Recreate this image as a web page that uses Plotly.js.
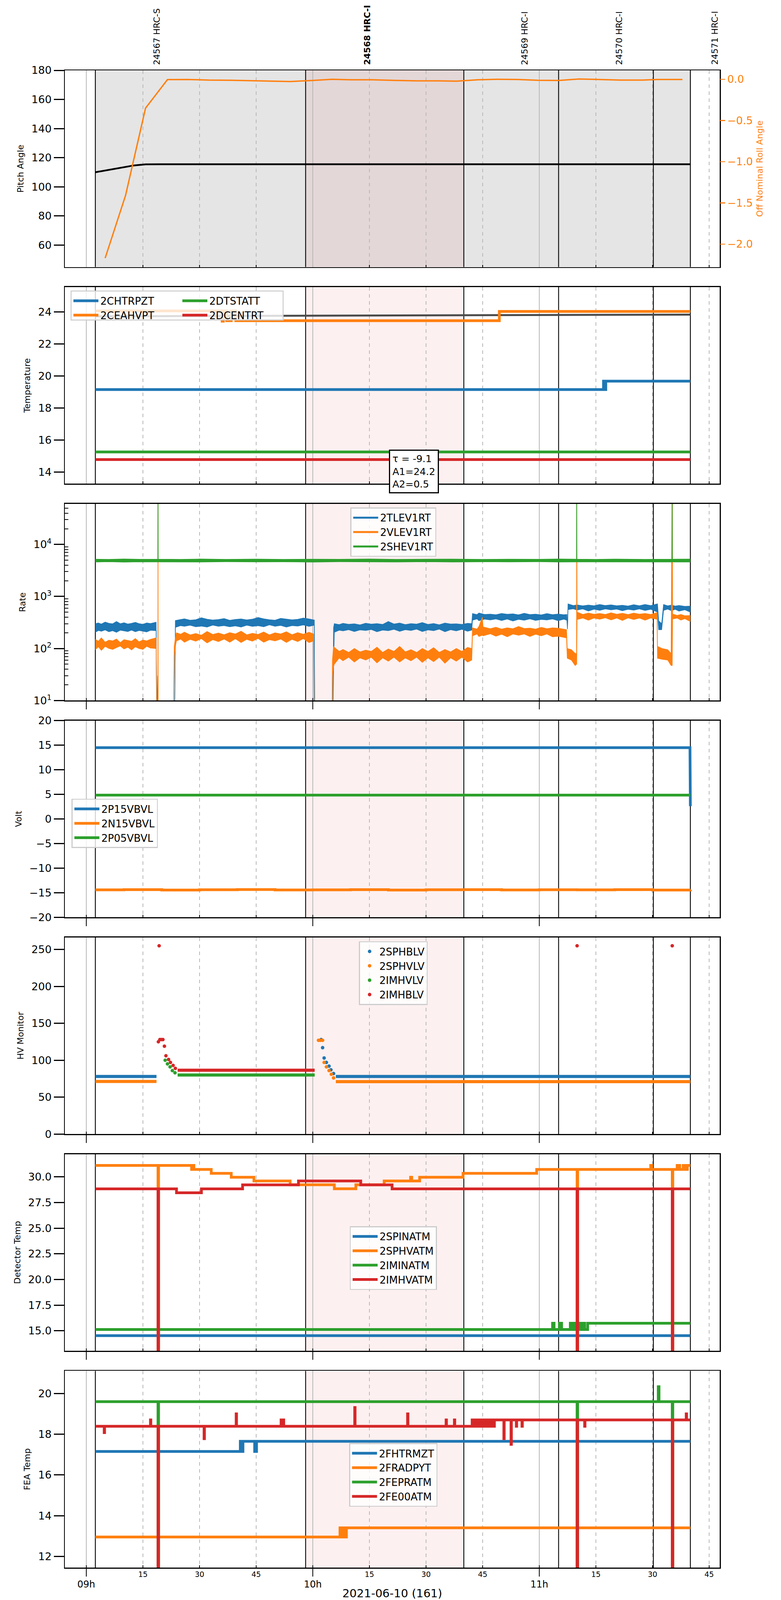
<!DOCTYPE html>
<html>
<head>
<meta charset="utf-8">
<script src="https://cdn.plot.ly/plotly-3.0.1.min.js"></script>
<style>
  body { margin: 0; background: #fff; }
  #chart { width: 2000px; height: 4096px; }
</style>
</head>
<body>
<div id="chart"></div>
<script>
// tab10 colours, as in the matplotlib original
const BLUE = "#1f77b4";
const ORANGE = "#ff7f0e";
const GREEN = "#2ca02c";
const RED = "#d62728";
const FONT = "DejaVu Sans";

// all times are minutes after 2021-06-10 09:00 UTC
const obsLabels = ["24567 HRC-S", "<b>24568 HRC-I</b>", "24569 HRC-I", "24570 HRC-I", "24571 HRC-I"];
const obsLabelT = [18.7, 74.4, 116.1, 141.1, 166.4];
const obsBoundsT = [2.4, 58.1, 100.0, 125.1, 150.2, 160.0];
const focusStartT = 58.1;
const focusEndT = 100.0;
const minorLabelT = [15, 30, 45, 75, 90, 105, 135, 150, 165];
const minorLabelText = ["15", "30", "45", "15", "30", "45", "15", "30", "45"];
const logMinorTicks = [20, 30, 40, 50, 60, 70, 80, 90, 200, 300, 400, 500, 600, 700, 800, 900,
  2000, 3000, 4000, 5000, 6000, 7000, 8000, 9000, 20000, 30000, 40000, 50000];

// panel 1: pitch / off nominal roll
const pitchT = [2.4, 7.4, 12.7, 15.7, 19.3, 160];
const pitchV = [110.0, 112.3, 114.7, 115.4, 115.5, 115.5];
const rollT = [5.0, 10.4, 15.7, 21.5, 26.9, 32.5, 38.4, 45.0, 49.2, 54.0, 59.9, 65.1, 70.1, 75.8, 82.6,
  87.6, 92.9, 98.1, 103.7, 109.0, 114.3, 119.6, 125.1, 130.5, 135.8, 141.4, 147.3, 151.3, 157.9];
const rollV = [-2.17, -1.41, -0.35, -0.004, -0.002, -0.010, -0.012, -0.017, -0.023, -0.027, -0.014, 0.0, -0.006,
  -0.006, -0.014, -0.019, -0.019, -0.023, -0.006, 0.0, -0.002, -0.012, -0.014, 0.004, -0.002, -0.010, -0.010,
  -0.002, -0.002];

// panel 2: temperatures (step data)
const chtrpT = [2.4, 137.0, 137.3, 137.6, 160];
const chtrpV = [19.15, 19.67, 19.15, 19.67, 19.67];
const ceahT = [2.4, 36.0, 36.3, 37.2, 38.4, 39.6, 109.4, 160];
const ceahV = [24.06, 23.42, 24.06, 23.45, 24.06, 23.45, 24.03, 24.03];
const dtstT = [2.4, 160];
const dtstV = [15.25, 15.25];
const dcenT = [2.4, 160];
const dcenV = [14.77, 14.77];
const modelT = [2.4, 160];
const modelV = [23.72, 23.83];
const fitText = "τ = -9.1<br>A1=24.2<br>A2=0.5";

// panel 3: rates, noisy, kept as upper / lower envelopes
const tlevT = [2.4, 3.2, 4, 5, 6, 7, 8, 9, 10, 11, 12, 13, 14, 15, 16, 17, 18.5,
  18.65, 18.9, 19.0, 23.4,
  23.6, 25, 26, 27.5, 29, 30.5, 32, 33.5, 35, 36.5, 38, 39.5, 41, 42.5, 44, 45.5, 47, 48.5, 50, 51.5, 53,
  54.5, 56, 57.5, 59, 60.4,
  60.5, 65.3, 65.5,
  65.7, 67, 68, 69.5, 71, 72.5, 74, 75.5, 77, 78.5, 80, 81.5, 83, 84.5, 86, 87.5, 89, 90.5, 92, 93.5, 95,
  96.5, 98, 99.5, 101, 102.1,
  102.3, 103.5, 104, 105.5, 107, 108.5, 110, 111.5, 113, 114.5, 116, 117.5, 119, 120.5, 122, 123.5, 125,
  126.5, 127.3,
  127.45,
  127.6, 129, 130, 131.5, 133, 134.5, 136, 137.5, 139, 140.5, 142, 143.5, 145, 146.5, 148, 149.5, 151.3,
  151.6, 152.4,
  152.9, 154, 155, 156, 157, 158.5, 160];
const tlevHi = [300, 310, 295, 322, 305, 298, 330, 300, 312, 296, 305, 318, 300, 292, 310, 302, 320,
  5, 30, 5, 5,
  345, 360, 372, 350, 358, 390, 365, 352, 360, 376, 348, 362, 370, 355, 366, 395, 372, 358, 350, 380, 368,
  356, 364, 385, 370, 352,
  5, 5, 250,
  300, 288, 305, 292, 298, 284, 306, 294, 300, 290, 330, 296, 308, 288, 300, 294, 315, 290, 302, 286, 308,
  296, 298, 290, 304, 300,
  470, 448, 480, 452, 458, 446, 470, 455, 462, 444, 476, 450, 458, 442, 468, 448, 460, 445, 450,
  250,
  720, 668, 690, 660, 682, 664, 700, 670, 688, 662, 676, 655, 694, 664, 700, 668, 720,
  340, 300,
  700, 660, 682, 655, 672, 645, 650];
const tlevLo = [205, 222, 215, 228, 210, 220, 205, 225, 218, 212, 226, 210, 222, 215, 208, 224, 220,
  5, 5, 5, 5,
  255, 275, 268, 280, 262, 270, 258, 282, 268, 276, 262, 272, 258, 280, 266, 274, 262, 285, 268, 278, 258,
  276, 270, 284, 266, 280,
  5, 5, 40,
  205, 225, 218, 230, 212, 228, 222, 232, 210, 226, 220, 234, 214, 230, 222, 236, 212, 228, 220, 236, 210,
  230, 218, 234, 215, 225,
  350, 372, 342, 366, 355, 370, 345, 368, 338, 364, 350, 372, 346, 362, 355, 370, 342, 366, 350,
  235,
  560, 580, 548, 576, 525, 570, 542, 578, 552, 572, 532, 566, 546, 576, 538, 568, 500,
  230, 230,
  540, 572, 532, 566, 522, 556, 500];

const vlevT = [2.4, 3.2, 4, 5, 6, 7, 8, 9, 10, 11, 12, 13, 14, 15, 16, 17, 18.5,
  18.65, 18.95, 19.0, 19.05, 23.1, 23.3, 23.7,
  23.9, 25, 26, 27.5, 29, 30.5, 32, 33.5, 35, 36.5, 38, 39.5, 41, 42.5, 44, 45.5, 47, 48.5, 50, 51.5, 53,
  54.5, 56, 57.5, 59, 60.2,
  60.3, 65.1, 65.2, 65.5,
  65.7, 67, 68, 69.5, 71, 72.5, 74, 75.5, 77, 78.5, 80, 81.5, 83, 84.5, 86, 87.5, 89, 90.5, 92, 93.5, 95,
  96.5, 98, 99.5, 101, 102.1,
  102.3, 103.5, 104, 104.9, 105.1, 107, 108.5, 110, 111.5, 113, 114.5, 116, 117.5, 119, 120.5, 122, 123.5,
  125, 127.2,
  127.4, 128.5, 129.5, 129.85, 129.9,
  130.0, 131.5, 133, 134.5, 136, 137.5, 139, 140.5, 142, 143.5, 145, 146.5, 148, 149.5, 151.2,
  151.3, 152.5, 154.0, 154.9, 155.2,
  155.3, 156.5, 157.5, 158.5, 160];
const vlevHi = [150, 138, 160, 132, 145, 140, 152, 130, 148, 142, 138, 155, 134, 146, 140, 150, 160,
  5, 5, 1e6, 5, 5, 110, 180,
  200, 188, 206, 182, 194, 180, 212, 186, 198, 184, 202, 190, 215, 183, 196, 186, 208, 182, 200, 190, 210,
  184, 202, 188, 205, 190,
  5, 5, 60, 110,
  105, 88, 96, 84, 100, 86, 93, 88, 106, 84, 98, 88, 110, 86, 95, 84, 100, 88, 104, 84, 96,
  86, 100, 88, 105, 100,
  250, 236, 265, 400, 260, 240, 256, 236, 250, 240, 265, 242, 246, 236, 255, 240, 250, 245, 230,
  100, 95, 80, 80, 1e6,
  500, 452, 480, 456, 470, 452, 485, 456, 475, 450, 480, 458, 470, 452, 490,
  110, 100, 95, 80, 1e6,
  460, 432, 450, 426, 430];
const vlevLo = [95, 108, 92, 110, 100, 96, 104, 112, 98, 106, 94, 108, 100, 96, 110, 102, 100,
  5, 5, 5, 5, 5, 70, 120,
  140, 152, 132, 150, 138, 155, 128, 148, 136, 152, 132, 154, 130, 150, 138, 156, 132, 148, 140, 152, 131,
  150, 136, 155, 130, 140,
  5, 5, 30, 45,
  50, 66, 58, 68, 55, 66, 60, 68, 53, 66, 57, 68, 55, 66, 58, 68, 54, 66, 56, 68, 52,
  66, 57, 68, 55, 60,
  175, 190, 170, 180, 175, 192, 172, 188, 168, 190, 180, 190, 170, 188, 175, 190, 168, 172, 160,
  65, 60, 47, 50, 50,
  360, 385, 350, 385, 365, 390, 355, 385, 345, 388, 360, 385, 350, 385, 365,
  65, 62, 60, 47, 47,
  370, 385, 352, 375, 330];

const shevT = [2.4, 6, 10, 14, 18.95, 19.0, 19.05, 25, 30, 37, 45, 52, 60, 67, 75, 82, 90, 97, 105, 112,
  120, 125, 129.85, 129.9, 129.95, 135, 140, 148, 155.15, 155.2, 155.25, 160];
const shevHi = [5200, 5150, 5250, 5180, 5200, 1e6, 5200, 5160, 5240, 5170, 5220, 5150, 5210, 5180, 5240, 5160,
  5200, 5230, 5170, 5210, 5180, 5240, 5200, 1e6, 5200, 5170, 5230, 5160, 5200, 1e6, 5200, 5220];
const shevLo = [4600, 4660, 4580, 4640, 4620, 4620, 4620, 4650, 4590, 4660, 4610, 4640, 4580, 4650, 4620, 4600,
  4660, 4590, 4640, 4610, 4650, 4590, 4620, 4620, 4620, 4650, 4600, 4640, 4620, 4620, 4620, 4600];

// panel 4: voltages
const p15T = [2.4, 159.9, 160.0];
const p15V = [14.5, 14.5, 2.6];
const n15T = [2.4, 10, 20, 30, 40, 50, 60, 70, 80, 90, 100, 110, 120, 130, 140, 150, 160];
const n15V = [-14.42, -14.38, -14.45, -14.40, -14.36, -14.44, -14.41, -14.38, -14.46, -14.40, -14.37,
  -14.44, -14.39, -14.42, -14.37, -14.45, -14.40];
const p05T = [2.4, 160];
const p05V = [4.85, 4.85];

// panel 5: HV monitors (steady runs + individual samples)
const sphbRunT = [2.4, 18.6, null, 66.1, 160];
const sphbRunV = [78, 78, null, 78, 78];
const sphbPtT = [62.2, 62.6, 63.0, 63.6, 64.3, 64.8, 65.5];
const sphbPtV = [128, 117, 103, 97, 92, 87, 82];
const sphvRunT = [2.4, 18.6, null, 66.1, 160];
const sphvRunV = [71.2, 71.2, null, 71, 71];
const sphvPtT = [61.5, 62.0, 62.6, 63.0, 63.6, 64.3, 64.9, 65.5];
const sphvPtV = [127, 127, 127, 97, 91, 86, 81, 76];
const imhvRunT = [24.2, 60.5];
const imhvRunV = [80, 80];
const imhvPtT = [20.9, 21.5, 22.2, 22.8, 23.5];
const imhvPtV = [100, 95, 91, 86, 83];
const imhbRunT = [24.2, 60.5];
const imhbRunV = [86.5, 86.5];
const imhbPtT = [19.1, 19.3, 19.5, 19.9, 20.3, 20.7, 21.1, 21.8, 22.3, 23.0, 23.6, 130.0, 155.2];
const imhbPtV = [125, 255, 128, 128, 128, 119, 106, 101, 97, 93, 89, 255, 255];

// panel 6: detector temperatures (step data)
const spinT = [2.4, 160];
const spinV = [14.53, 14.53];
const sphvaT = [2.4, 19.0, 19.15, 27.9, 28.2, 28.5, 33.1, 38.4, 44.4, 54.0, 65.7, 71.4, 78.9, 85.9, 86.2,
  88.3, 99.8, 119.3, 130.0, 130.15, 149.5, 149.8, 155.2, 155.35, 156.5, 157.2, 158.1, 158.7, 159.2, 160];
const sphvaV = [31.12, 12, 31.12, 30.73, 31.12, 30.73, 30.35, 29.97, 29.60, 29.23, 28.84, 29.23, 29.60, 29.97,
  29.60, 29.97, 30.35, 30.73, 12, 30.73, 31.12, 30.73, 12, 30.73, 31.12, 30.73, 31.12, 30.73, 31.12, 31.12];
const iminT = [2.4, 123.5, 123.9, 125.3, 125.9, 128.2, 128.8, 129.5, 130.8, 131.3, 132.0, 132.8, 160];
const iminV = [15.13, 15.74, 15.13, 15.74, 15.13, 15.74, 15.13, 15.74, 15.13, 15.74, 15.13, 15.74, 15.74];
const imhvaT = [2.4, 19.0, 19.15, 23.9, 30.5, 41.4, 56.2, 72.7, 81.0, 130.0, 130.15, 155.2, 155.35, 160];
const imhvaV = [28.83, 12, 28.83, 28.45, 28.83, 29.22, 29.60, 29.22, 28.83, 12, 28.83, 12, 28.83, 28.83];

// panel 7: FEA temperatures (step data)
const fhtrT = [2.4, 40.8, 41.1, 41.5, 44.6, 45.1, 160];
const fhtrV = [17.15, 17.65, 17.15, 17.65, 17.15, 17.65, 17.65];
const fradT = [2.4, 67.2, 67.5, 68.2, 68.5, 68.9, 160];
const fradV = [12.95, 13.40, 12.95, 13.40, 12.95, 13.40, 13.40];
const fepraT = [2.4, 19.0, 19.15, 130.0, 130.15, 151.5, 151.7, 155.2, 155.35, 160];
const fepraV = [19.6, 11, 19.6, 11, 19.6, 20.33, 19.6, 11, 19.6, 19.6];
const fe00T = [2.4, 4.75, 4.85, 17.0, 17.1, 19.0, 19.15, 31.2, 31.3, 39.7, 39.8, 51.6, 51.7, 52.2, 52.3,
  71.1, 71.2, 85.1, 85.2, 95.3, 95.4, 97.5, 97.6, 102.2, 102.6, 103.0, 103.5, 104.0, 104.5, 105.0,
  105.6, 106.1, 106.7, 107.1, 107.8, 108.1, 110.6, 110.7, 112.5, 112.6, 113.9, 114.0, 115.4, 115.5,
  130.0, 130.15, 132.0, 132.1, 155.2, 155.35, 158.9, 159.0, 160];
const fe00V = [18.39, 18.08, 18.39, 18.70, 18.39, 11, 18.39, 17.78, 18.39, 19.0, 18.39, 18.70, 18.39, 18.70,
  18.39, 19.31, 18.39, 19.0, 18.39, 18.70, 18.39, 18.70, 18.39, 18.70, 18.39, 18.70, 18.39, 18.70, 18.39,
  18.70, 18.39, 18.70, 18.39, 18.70, 18.39, 18.70, 17.78, 18.70, 17.5, 18.70, 18.39, 18.70, 18.39, 18.70,
  11, 18.70, 18.39, 18.70, 11, 18.70, 19.0, 18.70, 18.70];

// Geometry is measured on the 2000x5400 reference and squeezed vertically into
// the 4096 px tall viewport that actually gets photographed.
const REF_H = 5400;
const PAGE_H = 4096;
const SY = PAGE_H / REF_H;
const REF_M = { l: 166, r: 157, t: 237, b: 109 };
const M = { l: REF_M.l, r: REF_M.r, t: Math.round(REF_M.t * SY), b: Math.round(REF_M.b * SY) };
const REF_PLOT_H = REF_H - REF_M.t - REF_M.b;
const PANEL_H = 664;
const PANEL_STEP = 731.67;
const BASE = Date.UTC(2021, 5, 10, 9, 0, 0);

function tm(m) {
  return m === null ? null : BASE + m * 60000;
}
function tms(arr) {
  return arr.map(tm);
}
function domainOf(i) {
  const top = PANEL_STEP * i;
  return [(REF_PLOT_H - top - PANEL_H) / REF_PLOT_H, (REF_PLOT_H - top) / REF_PLOT_H];
}
function px(xPix) {
  return (xPix - REF_M.l) / (2000 - REF_M.l - REF_M.r);
}
function py(yPix) {
  return (REF_H - REF_M.b - yPix) / REF_PLOT_H;
}

const LW = 7;
const traces = [];

function stepLine(t, v, color, name, n, legend) {
  return {
    x: tms(t), y: v, xaxis: "x" + n, yaxis: "y" + n,
    type: "scatter", mode: "lines", name: name,
    line: { color: color, width: LW, shape: "hv" },
    legend: legend, showlegend: !!legend,
  };
}

// Noisy rate series drawn as a filled envelope
function band(t, hi, lo, color, name, legend) {
  traces.push({
    x: tms(t), y: hi, xaxis: "x3", yaxis: "y3", type: "scatter", mode: "lines",
    line: { color: color, width: 1.5 }, showlegend: false,
  });
  traces.push({
    x: tms(t), y: lo, xaxis: "x3", yaxis: "y3", type: "scatter", mode: "lines",
    line: { color: color, width: 1.5 }, fill: "tonexty", fillcolor: color, showlegend: false,
  });
  traces.push({
    x: [null], y: [null], xaxis: "x3", yaxis: "y3", type: "scatter", mode: "lines",
    name: name, line: { color: color, width: 5 }, legend: legend,
  });
}

// Panel 1
traces.push({
  x: tms(pitchT), y: pitchV, xaxis: "x", yaxis: "y", type: "scatter", mode: "lines",
  line: { color: "black", width: 4.5 }, showlegend: false,
});
traces.push({
  x: tms(rollT), y: rollV, xaxis: "x", yaxis: "y8", type: "scatter", mode: "lines",
  line: { color: ORANGE, width: 3.5 }, showlegend: false,
});

// Panel 2
traces.push({
  x: tms(modelT), y: modelV, xaxis: "x2", yaxis: "y2", type: "scatter", mode: "lines",
  line: { color: "#4a4a4a", width: 5 }, showlegend: false,
});
traces.push(stepLine(chtrpT, chtrpV, BLUE, "2CHTRPZT", 2, "legend"));
traces.push(stepLine(ceahT, ceahV, ORANGE, "2CEAHVPT", 2, "legend"));
traces.push(stepLine(dtstT, dtstV, GREEN, "2DTSTATT", 2, "legend2"));
traces.push(stepLine(dcenT, dcenV, RED, "2DCENTRT", 2, "legend2"));

// Panel 3
band(tlevT, tlevHi, tlevLo, BLUE, "2TLEV1RT", "legend3");
band(vlevT, vlevHi, vlevLo, ORANGE, "2VLEV1RT", "legend3");
band(shevT, shevHi, shevLo, GREEN, "2SHEV1RT", "legend3");

// Panel 4
traces.push(stepLine(p15T, p15V, BLUE, "2P15VBVL", 4, "legend4"));
traces[traces.length - 1].line.shape = "linear";
traces.push(stepLine(n15T, n15V, ORANGE, "2N15VBVL", 4, "legend4"));
traces.push(stepLine(p05T, p05V, GREEN, "2P05VBVL", 4, "legend4"));

// Panel 5
const hvSeries = [
  ["2SPHBLV", BLUE, sphbRunT, sphbRunV, sphbPtT, sphbPtV],
  ["2SPHVLV", ORANGE, sphvRunT, sphvRunV, sphvPtT, sphvPtV],
  ["2IMHVLV", GREEN, imhvRunT, imhvRunV, imhvPtT, imhvPtV],
  ["2IMHBLV", RED, imhbRunT, imhbRunV, imhbPtT, imhbPtV],
];
for (const s of hvSeries) {
  traces.push({
    x: tms(s[2]), y: s[3], xaxis: "x5", yaxis: "y5", type: "scatter", mode: "lines",
    line: { color: s[1], width: 8 }, showlegend: false, connectgaps: false,
  });
  traces.push({
    x: tms(s[4]), y: s[5], xaxis: "x5", yaxis: "y5", type: "scatter", mode: "markers",
    marker: { color: s[1], size: 9 }, name: s[0], legend: "legend5",
  });
}

// Panel 6
traces.push(stepLine(spinT, spinV, BLUE, "2SPINATM", 6, "legend6"));
traces.push(stepLine(sphvaT, sphvaV, ORANGE, "2SPHVATM", 6, "legend6"));
traces.push(stepLine(iminT, iminV, GREEN, "2IMINATM", 6, "legend6"));
traces.push(stepLine(imhvaT, imhvaV, RED, "2IMHVATM", 6, "legend6"));

// Panel 7
traces.push(stepLine(fhtrT, fhtrV, BLUE, "2FHTRMZT", 7, "legend7"));
traces.push(stepLine(fradT, fradV, ORANGE, "2FRADPYT", 7, "legend7"));
traces.push(stepLine(fepraT, fepraV, GREEN, "2FEPRATM", 7, "legend7"));
traces.push(stepLine(fe00T, fe00V, RED, "2FE00ATM", 7, "legend7"));

// Axes
const yAxisSpec = [
  { title: "Pitch Angle", range: [44.9, 180], dtick: 20 },
  { title: "Temperature", range: [13.26, 25.55], dtick: 2 },
  { title: "Rate", type: "log", range: [1, 4.78] },
  { title: "Volt", range: [-20, 20], dtick: 5 },
  { title: "HV Monitor", range: [0, 266.4], dtick: 50 },
  { title: "Detector Temp", range: [13.05, 32.22], dtick: 2.5, tickformat: ".1f" },
  { title: "FEA Temp", range: [11.45, 21.11], dtick: 2 },
];

const layout = {
  width: 2000,
  height: PAGE_H,
  margin: M,
  paper_bgcolor: "white",
  plot_bgcolor: "white",
  font: { family: FONT, size: 26, color: "black" },
  hovermode: false,
  shapes: [],
  annotations: [],
};

const xRange = [tm(-5.68), tm(167.77)];
for (let i = 0; i < 7; i++) {
  const n = i + 1;
  const xKey = n === 1 ? "xaxis" : "xaxis" + n;
  const yKey = n === 1 ? "yaxis" : "yaxis" + n;
  const xa = {
    domain: [0, 1],
    anchor: n === 1 ? "y" : "y" + n,
    type: "date",
    range: xRange,
    showline: true, mirror: true, linecolor: "black", linewidth: 2.5,
    zeroline: false,
    showgrid: true, gridcolor: "#b8b8b8", gridwidth: 1.5,
    tick0: BASE, dtick: 3600000,
    ticks: n >= 3 ? "outside" : "", ticklen: 20, tickwidth: 2.5, tickcolor: "black",
    showticklabels: n === 7,
    tickformat: "%Hh",
    tickfont: { size: 24 },
    minor: {
      tick0: BASE, dtick: 900000, ticks: "inside", ticklen: 6, tickwidth: 2, tickcolor: "black",
      showgrid: true, gridcolor: "#b8b8b8", gridwidth: 1.5, griddash: "dash",
    },
  };
  if (n > 1) xa.matches = "x";
  if (n === 7) {
    xa.title = { text: "2021-06-10 (161)", font: { size: 29 }, standoff: 3 };
  }
  layout[xKey] = xa;

  const spec = yAxisSpec[i];
  const ya = {
    domain: domainOf(i),
    anchor: n === 1 ? "x" : "x" + n,
    range: spec.range,
    showline: true, mirror: true, linecolor: "black", linewidth: 2.5,
    zeroline: false, showgrid: false,
    ticks: "outside", ticklen: 26, tickwidth: 3, tickcolor: "black",
    tickfont: { size: 27 },
    title: { text: spec.title, font: { size: 22 }, standoff: 14 },
  };
  if (spec.type === "log") {
    ya.type = "log";
    ya.tickvals = [10, 100, 1000, 10000];
    ya.ticktext = ["10<sup>1</sup>", "10<sup>2</sup>", "10<sup>3</sup>", "10<sup>4</sup>"];
  } else {
    ya.tick0 = 0;
    ya.dtick = spec.dtick;
    if (spec.tickformat) ya.tickformat = spec.tickformat;
  }
  layout[yKey] = ya;

  // focus observation shading, then the observation boundaries
  if (n === 1) {
    layout.shapes.push({
      type: "rect", xref: "x", yref: "y domain", x0: tm(obsBoundsT[0]), x1: tm(obsBoundsT[5]),
      y0: 0, y1: 1, fillcolor: "#e5e5e5", line: { width: 0 }, layer: "below",
    });
  }
  layout.shapes.push({
    type: "rect", xref: "x" + n, yref: "y" + n + " domain", x0: tm(focusStartT), x1: tm(focusEndT),
    y0: 0, y1: 1, fillcolor: "rgba(220,0,0,0.06)", line: { width: 0 }, layer: "below",
  });
  for (const b of obsBoundsT) {
    layout.shapes.push({
      type: "line", xref: "x" + n, yref: "y" + n + " domain", x0: tm(b), x1: tm(b), y0: 0, y1: 1,
      line: { color: "black", width: 2.2 }, layer: "below",
    });
  }
}

// right axis of the top panel
layout.yaxis8 = {
  overlaying: "y", side: "right", anchor: "x",
  range: [-2.278, 0.109], tick0: 0, dtick: 0.5, tickformat: ".1f",
  showgrid: false, zeroline: false, showline: false,
  ticks: "outside", ticklen: 13, tickwidth: 2.5, tickcolor: ORANGE,
  tickfont: { size: 27, color: ORANGE },
  title: { text: "Off Nominal Roll Angle", font: { size: 22, color: ORANGE }, standoff: 10 },
};

// minor ticks of the log rate axis (inside, unlabelled)
layout.yaxis9 = {
  overlaying: "y3", side: "left", anchor: "x3", type: "log", range: [1, 4.78],
  tickvals: logMinorTicks, showticklabels: false,
  ticks: "inside", ticklen: 9, tickwidth: 2, tickcolor: "black",
  showgrid: false, zeroline: false, showline: false,
};
traces.push({ x: [null], y: [null], xaxis: "x3", yaxis: "y9", type: "scatter", mode: "lines", showlegend: false });

// observation labels above the top panel
obsLabels.forEach(function (txt, k) {
  layout.annotations.push({
    text: txt, x: tm(obsLabelT[k]), xref: "x", y: 1, yref: "paper",
    xanchor: "center", yanchor: "bottom", yshift: 12, textangle: -90,
    showarrow: false, font: { size: 22 },
  });
});

// fit parameters box in the temperature panel
layout.annotations.push({
  text: fitText, xref: "paper", yref: "paper", x: px(996), y: py(1591),
  xanchor: "left", yanchor: "middle", align: "left", showarrow: false,
  bgcolor: "white", bordercolor: "black", borderwidth: 3, borderpad: 6,
  font: { size: 25 },
});

// minute labels on the bottom axis
minorLabelT.forEach(function (m, k) {
  layout.annotations.push({
    text: minorLabelText[k], x: tm(m), xref: "x7", y: 0, yref: "paper",
    xanchor: "center", yanchor: "top", yshift: -4, showarrow: false,
    font: { size: 19 },
  });
});

// legends
const legendBase = {
  bgcolor: "rgba(255,255,255,0.8)", bordercolor: "#cccccc", borderwidth: 2.5,
  font: { size: 26 }, itemwidth: 64, xanchor: "center", yanchor: "top",
  traceorder: "normal",
};
layout.legend = Object.assign({}, legendBase, {
  x: px(183), y: py(984), xanchor: "left", bgcolor: "rgba(0,0,0,0)", borderwidth: 0,
});
layout.legend2 = Object.assign({}, legendBase, {
  x: px(462), y: py(984), xanchor: "left", bgcolor: "rgba(0,0,0,0)", borderwidth: 0,
});
layout.legend3 = Object.assign({}, legendBase, { x: px(1007), y: py(1713) });
layout.legend4 = Object.assign({}, legendBase, { x: px(183), y: py(2696), xanchor: "left" });
layout.legend5 = Object.assign({}, legendBase, { x: px(1007), y: py(3177), itemwidth: 40 });
layout.legend6 = Object.assign({}, legendBase, { x: px(1007), y: py(4139) });
layout.legend7 = Object.assign({}, legendBase, { x: px(1007), y: py(4871) });

// shared frame behind the two-column legend of panel 2
layout.shapes.push({
  type: "rect", xref: "paper", yref: "paper",
  x0: px(182), x1: px(725), y0: py(1080), y1: py(982),
  fillcolor: "rgba(255,255,255,0.8)", line: { color: "#cccccc", width: 2.5 }, layer: "above",
});

Plotly.newPlot("chart", traces, layout, { staticPlot: true });
</script>
</body>
</html>
